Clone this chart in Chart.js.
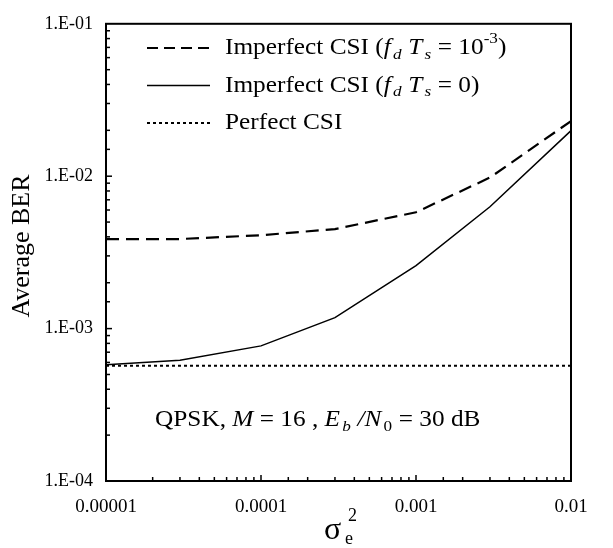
<!DOCTYPE html>
<html>
<head>
<meta charset="utf-8">
<script src="https://cdn.jsdelivr.net/npm/chart.js@4"></script>
<style>
  body { margin: 0; background: #fff; }
  #wrap { width: 613px; height: 548px; }
</style>
</head>
<body>
<div id="wrap"><canvas id="chart"></canvas></div>
<script>
// data
let sigmaE2 = [0.00001, 0.00003, 0.0001, 0.0003, 0.001, 0.003, 0.01];
let berDoppler = [0.00387, 0.00387, 0.0041, 0.0045, 0.0058, 0.0098, 0.023];
let berStatic = [0.00058, 0.00062, 0.00077, 0.00118, 0.00259, 0.0063, 0.0199];
let berPerfect = [0.00057, 0.00057, 0.00057, 0.00057, 0.00057, 0.00057, 0.00057];
let xTickLabels = ['0.00001', '0.0001', '0.001', '0.01'];
let yTickLabels = ['1.E-04', '1.E-03', '1.E-02', '1.E-01'];

const serif = '"Liberation Serif", "Times New Roman", serif';

function pts(ys){
  return sigmaE2.map((x, i) => ({x: x, y: ys[i]}));
}

// legend text pieces: t=text, i=italic, b=subscript, p=superscript
let legendText = [
  [{t:'Imperfect CSI ('}, {t:'f', i:1}, {t:'d', i:1, b:1}, {t:'T', i:1}, {t:'s', i:1, b:1}, {t:'= 10'}, {t:'-3', p:1}, {t:')'}],
  [{t:'Imperfect CSI ('}, {t:'f', i:1}, {t:'d', i:1, b:1}, {t:'T', i:1}, {t:'s', i:1, b:1}, {t:'= 0)'}],
  [{t:'Perfect CSI'}]
];
let noteText = [{t:'QPSK, '}, {t:'M', i:1}, {t:' = 16 , '}, {t:'E', i:1}, {t:'b', i:1, b:1}, {t:'/', i:1}, {t:'N', i:1}, {t:'0', b:1}, {t:'= 30 dB'}];

function isDecade(v){
  let l = Math.log10(v);
  return Math.abs(l - Math.round(l)) < 1e-6;
}

// text is drawn slightly widened, as in the picture
function drawRich(ctx, x, y, segs, size){
  ctx.save();
  ctx.translate(x, y);
  ctx.scale(1.1, 1);
  ctx.textBaseline = 'middle';
  ctx.textAlign = 'left';
  ctx.fillStyle = '#000';
  let cx = 0;
  segs.forEach(s => {
    let sz = (s.b || s.p) ? size * 0.68 : size;
    let dy = s.b ? size * 0.28 : (s.p ? -size * 0.38 : 0);
    ctx.font = (s.i ? 'italic ' : '') + sz + 'px ' + serif;
    if (s.b) cx += 2;
    ctx.fillText(s.t, cx, dy);
    cx += ctx.measureText(s.t).width + (s.b ? 6 : 0);
  });
  ctx.restore();
}

const frame = {
  id: 'frame',
  afterDatasetsDraw(chart){
    let ctx = chart.ctx;
    let a = chart.chartArea;
    let xs = chart.scales.x, ys = chart.scales.y;
    ctx.save();
    ctx.strokeStyle = '#000';
    ctx.lineWidth = 1.5;
    ys.ticks.forEach(t => {
      let py = ys.getPixelForValue(t.value);
      if (py <= a.top + 1 || py >= a.bottom - 1) return;
      let len = isDecade(t.value) ? 6 : 4;
      ctx.beginPath(); ctx.moveTo(a.left, py); ctx.lineTo(a.left + len, py); ctx.stroke();
    });
    xs.ticks.forEach(t => {
      let px = xs.getPixelForValue(t.value);
      if (px <= a.left + 1 || px >= a.right - 1) return;
      let len = isDecade(t.value) ? 6 : 4;
      ctx.beginPath(); ctx.moveTo(px, a.bottom); ctx.lineTo(px, a.bottom - len); ctx.stroke();
    });
    ctx.lineWidth = 2;
    ctx.strokeRect(a.left, a.top, a.right - a.left, a.bottom - a.top);
    ctx.restore();
  },
  afterDraw(chart){
    let ctx = chart.ctx;
    ctx.save();
    // legend inside the plot
    chart.data.datasets.forEach((ds, i) => {
      let y = 48 + i * 37.5;
      ctx.strokeStyle = ds.borderColor;
      ctx.lineWidth = ds.borderWidth;
      ctx.setLineDash(i == 0 ? [11, 6] : (ds.borderDash || []));
      ctx.beginPath(); ctx.moveTo(147, y); ctx.lineTo(210, y); ctx.stroke();
      ctx.setLineDash([]);
      drawRich(ctx, 225, y, legendText[i], 23);
    });
    drawRich(ctx, 155, 420, noteText, 23);
    // axis titles
    ctx.save();
    ctx.translate(22, 246);
    ctx.rotate(-Math.PI / 2);
    ctx.font = '26px ' + serif;
    ctx.textAlign = 'center';
    ctx.textBaseline = 'middle';
    ctx.fillText('Average BER', 0, 0);
    ctx.restore();
    ctx.textBaseline = 'alphabetic';
    ctx.textAlign = 'left';
    ctx.font = '32px ' + serif;
    ctx.fillText('σ', 324, 539);
    ctx.font = '18px ' + serif;
    ctx.fillText('e', 345, 544);
    ctx.fillText('2', 348, 521);
    ctx.restore();
  }
};

let ctx = document.getElementById('chart').getContext('2d');
var myChart = new Chart(ctx, {
  type: 'line',
  data: {
    datasets: [{
      label: 'Imperfect CSI (fd Ts = 10^-3)',
      data: pts(berDoppler),
      borderColor: '#000',
      borderWidth: 2.2,
      borderDash: [13, 7],
      pointRadius: 0,
      fill: false,
      tension: 0
    }, {
      label: 'Imperfect CSI (fd Ts = 0)',
      data: pts(berStatic),
      borderColor: '#000',
      borderWidth: 1.5,
      pointRadius: 0,
      fill: false,
      tension: 0
    }, {
      label: 'Perfect CSI',
      data: pts(berPerfect),
      borderColor: '#000',
      borderWidth: 2,
      borderDash: [3, 3],
      pointRadius: 0,
      fill: false,
      tension: 0
    }]
  },
  options: {
    responsive: true,
    maintainAspectRatio: false,
    animation: false,
    layout: { padding: { left: 0, top: 12, right: 42, bottom: 0 } },
    plugins: { legend: { display: false }, tooltip: { enabled: false } },
    scales: {
      x: {
        type: 'logarithmic',
        min: 0.00001,
        max: 0.01,
        afterFit: s => { s.height = 67; },
        grid: { display: false, drawTicks: false },
        border: { display: false },
        ticks: {
          autoSkip: false,
          maxRotation: 0,
          padding: 15,
          color: '#000',
          font: { family: serif, size: 19 },
          callback: v => isDecade(v) ? xTickLabels[Math.round(Math.log10(v)) + 5] : ''
        }
      },
      y: {
        type: 'logarithmic',
        min: 0.0001,
        max: 0.1,
        afterFit: s => { s.width = 106; },
        grid: { display: false, drawTicks: false },
        border: { display: false },
        ticks: {
          autoSkip: false,
          padding: 13,
          color: '#000',
          font: { family: serif, size: 18 },
          callback: v => isDecade(v) ? yTickLabels[Math.round(Math.log10(v)) + 4] : ''
        }
      }
    }
  },
  plugins: [frame]
});
</script>
</body>
</html>
